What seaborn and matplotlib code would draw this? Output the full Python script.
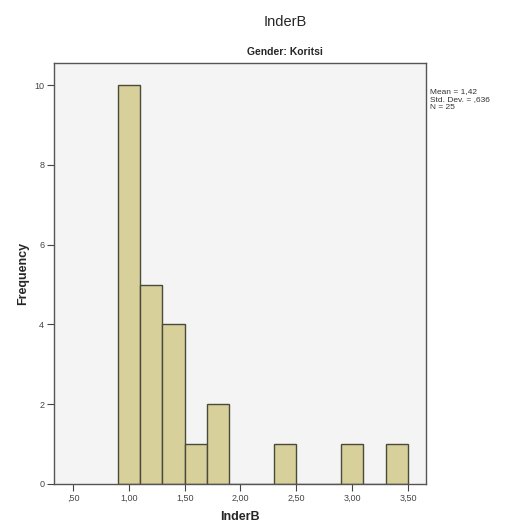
import numpy as np
import pandas as pd
import matplotlib
matplotlib.use("Agg")
import matplotlib.pyplot as plt
import seaborn as sns

# InderB scores for the Koritsi group
value_levels = [1.0, 1.2, 1.4, 1.6, 1.8, 2.4, 3.0, 3.4]
level_counts = [10, 5, 4, 1, 2, 1, 1, 1]
x_ticks = [0.5, 1.0, 1.5, 2.0, 2.5, 3.0, 3.5]
x_tick_labels = [",50", "1,00", "1,50", "2,00", "2,50", "3,00", "3,50"]
y_ticks = [0, 2, 4, 6, 8, 10]

scores = np.repeat(value_levels, level_counts)
df = pd.DataFrame({"InderB": scores})

n = len(scores)
mean = scores.mean()
sd = scores.std(ddof=1)

sns.set_theme(style="white")
plt.rcParams["font.family"] = ["Liberation Sans", "DejaVu Sans"]

fig = plt.figure(figsize=(5.07, 5.30), dpi=100)
ax = fig.add_axes([0.1065, 0.0868, 0.7335, 0.7942])
ax.set_facecolor("#f4f4f4")

bin_edges = np.round(np.arange(0.9, 3.5001, 0.2), 2)
sns.histplot(data=df, x="InderB", bins=bin_edges, ax=ax,
             color="#d8d09a", edgecolor="#4a4a3a", linewidth=1.0, alpha=1)

ax.set_xlim(0.33, 3.66)
ax.set_ylim(0, 10.55)
ax.set_xticks(x_ticks)
ax.set_xticklabels(x_tick_labels)
ax.set_yticks(y_ticks)
ax.tick_params(axis="both", which="both", direction="out", length=5, width=0.8,
               colors="#444444", labelsize=6.5, bottom=True, left=True)
ax.tick_params(axis="x", pad=2)
ax.tick_params(axis="y", pad=2)

for side in ["left", "bottom", "top", "right"]:
    ax.spines[side].set_color("#555555")
    ax.spines[side].set_linewidth(1.0)

ax.set_xlabel("InderB", fontsize=9, fontweight="bold", labelpad=6)
ax.set_ylabel("Frequency", fontsize=9, fontweight="bold", labelpad=4)

# Chart title and panel subtitle, centred over the whole chart block
fig.text(0.562, 0.958, "InderB", ha="center", va="center", fontsize=10.5)
fig.text(0.562, 0.902, "Gender: Koritsi", ha="center", va="center",
         fontsize=7.5, fontweight="bold")

stats = (f"Mean = {mean:.2f}".replace(".", ",") + "\n"
         + f"Std. Dev. = {sd:.3f}".replace("0.", ",") + "\n"
         + f"N = {n}")
fig.text(0.848, 0.834, stats, ha="left", va="top", fontsize=6,
         color="#333333", linespacing=1.25)

fig.savefig("out.png", dpi=100)
